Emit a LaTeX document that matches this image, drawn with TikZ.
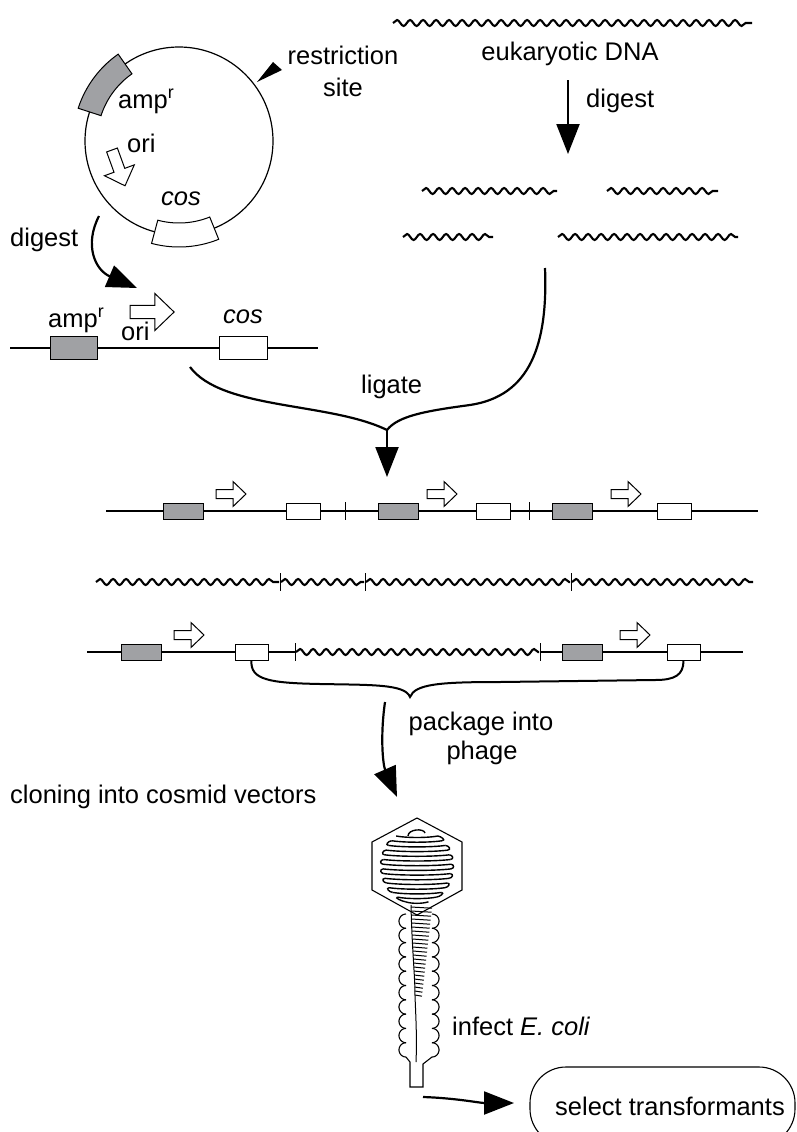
\documentclass[tikz,border=0pt]{standalone}
\usepackage{fontspec}
\setmainfont{Liberation Sans}
\usetikzlibrary{arrows.meta,decorations.pathmorphing,calc}
\definecolor{ampgray}{RGB}{160,161,164}
\tikzset{
  oriarrow/.pic={
    \draw[fill=white,line width=1pt] (0,-4.5) -- (17,-4.5) -- (17,-12.5) -- (30,0)
      -- (17,12.5) -- (17,4.5) -- (0,4.5) -- cycle;
  }
}
\begin{document}
\begin{tikzpicture}[x=1pt,y=-1pt,
  lbl/.style={font=\fontsize{25.5}{30}\selectfont, inner sep=0pt},
  thinline/.style={line width=1.1pt},
  wavy/.style={line width=2.1pt, decorate,
    decoration={snake, segment length=13pt, amplitude=3pt}},
  flow/.style={line width=2.2pt, -{Triangle[length=30pt,width=23pt]}},
  curve/.style={line width=2.2pt},
  ampbox/.style={draw, line width=1pt, fill=ampgray, minimum width=40pt,
    minimum height=16pt, inner sep=0pt},
  cosbox/.style={ampbox, fill=white},
  tickmark/.style={line width=1pt},
  coil/.style={line width=1.4pt},
  phage/.style={line width=1.1pt}
]
\useasboundingbox (0,0) rectangle (797,1132);

% ---------- plasmid ----------
\coordinate (pc) at (179,141);
\draw[line width=1.2pt] (pc) circle[radius=94];
\draw[line width=1pt, fill=ampgray]
  plot[domain=-162:-125,samples=24] ({179+82*cos(\x)},{141+82*sin(\x)})
  -- plot[domain=-125:-162,samples=24] ({179+106*cos(\x)},{141+106*sin(\x)}) -- cycle;
\draw[line width=1pt, fill=white]
  plot[domain=68:105,samples=24] ({179+82*cos(\x)},{141+82*sin(\x)})
  -- plot[domain=105:68,samples=24] ({179+106*cos(\x)},{141+106*sin(\x)}) -- cycle;
\fill (257,82) -- (273,62) -- (282,70) -- cycle;
\node[lbl, anchor=base] (restr) at (343,64) {restriction};
\node[lbl, anchor=base] (site) at (343,96) {site};
\node[lbl, anchor=base west] (pamp) at (118,108) {amp\textsuperscript{r}};
\node[lbl, anchor=base west] (pori) at (127,152) {ori};
\node[lbl, anchor=base] (pcos) at (181,205) {\itshape cos};
\pic[scale=1.27, rotate=-70] at (112,150) {oriarrow};

% digest of the vector
\node[lbl, anchor=base west] (dig1) at (10,246) {digest};
\coordinate (d1s) at (99,216);
\coordinate (d1e) at (137,288);
\draw[flow] (d1s) .. controls (84,245) and (95,270) .. (d1e);

% ---------- eukaryotic DNA ----------
\coordinate (eA) at (393,23);
\coordinate (eB) at (752,23);
\draw[wavy] (eA) -- (eB);
\node[lbl, anchor=base] (euk) at (570,60) {eukaryotic DNA};
\coordinate (d2s) at (568,80);
\coordinate (d2e) at (568,154);
\draw[flow] (d2s) -- (d2e);
\node[lbl, anchor=base west] (dig2) at (586,107) {digest};
\draw[wavy] (422,191) -- (557,191);
\draw[wavy] (607,191) -- (718,191);
\draw[wavy] (403,237) -- (493,237);
\draw[wavy] (558,237) -- (738,237);

% ---------- linearised vector ----------
\coordinate (lvA) at (10,348);
\coordinate (lvB) at (318,348);
\draw[thinline] (lvA) -- (lvB);
\node[ampbox, minimum width=47pt, minimum height=23pt] (lamp) at (73.5,348) {};
\node[cosbox, minimum width=48pt, minimum height=23pt] (lcos) at (243,348) {};
\pic[scale=1.47] at (130,312) {oriarrow};
\node[lbl, anchor=base west] (lampt) at (48,327) {amp\textsuperscript{r}};
\node[lbl, anchor=base west] (lorit) at (121,340) {ori};
\node[lbl, anchor=base] (lcost) at (243,323) {\itshape cos};

% ---------- ligation ----------
\coordinate (lgL) at (190,367);
\coordinate (lgR) at (545,268);
\coordinate (lgJ) at (387,430);
\coordinate (lgT) at (387,477);
\draw[curve] (lgL) .. controls (222,410) and (330,402) .. (lgJ);
\draw[curve] (lgR) .. controls (548,345) and (530,396) .. (470,405)
  .. controls (425,411) and (398,416) .. (lgJ);
\draw[flow] (lgJ) -- (lgT);
\node[lbl, anchor=base west] (lig) at (361,393) {ligate};

% ---------- concatemer ----------
\coordinate (cA) at (106,511);
\coordinate (cB) at (758,511);
\draw[thinline] (cA) -- (cB);
\draw[tickmark] (345,502) -- (345,520);
\draw[tickmark] (529,502) -- (529,520);
\node[ampbox] (ca1) at (183,511) {};
\node[ampbox] (ca2) at (398,511) {};
\node[ampbox] (ca3) at (572,511) {};
\node[cosbox, minimum width=34pt] (cc1) at (303,511) {};
\node[cosbox, minimum width=34pt] (cc2) at (493,511) {};
\node[cosbox, minimum width=34pt] (cc3) at (674,511) {};
\pic at (216,494) {oriarrow};
\pic at (427,494) {oriarrow};
\pic at (611,494) {oriarrow};

% ---------- cut insert DNA ----------
\draw[wavy] (96,582) -- (279,582);
\draw[wavy] (281,582) -- (364,582);
\draw[wavy] (366,582) -- (570,582);
\draw[wavy] (572,582) -- (753,582);
\draw[tickmark] (280,573) -- (280,591);
\draw[tickmark] (365,573) -- (365,591);
\draw[tickmark] (571,573) -- (571,591);

% ---------- cosmid with insert ----------
\draw[thinline] (87,652) -- (295,652);
\draw[thinline] (540,652) -- (743,652);
\draw[wavy] (296,652) -- (539,652);
\draw[tickmark] (295,643) -- (295,661);
\draw[tickmark] (540,643) -- (540,661);
\node[ampbox] (ra1) at (141.5,652) {};
\node[ampbox] (ra2) at (582,652) {};
\node[cosbox, minimum width=33pt] (rc1) at (251.5,652) {};
\node[cosbox, minimum width=33pt] (rc2) at (683.5,652) {};
\pic at (174,635) {oriarrow};
\pic at (620,635) {oriarrow};

% brace between the cos sites
\draw[line width=2pt] (rc1.south) .. controls (250,680) and (270,683) .. (320,684)
  .. controls (372,685) and (405,684) .. (410,697)
  .. controls (415,684) and (440,682) .. (500,682) -- (655,680)
  .. controls (675,680) and (683.5,675) .. (rc2.south);

% packaging
\coordinate (pkS) at (385,702);
\coordinate (pkE) at (397,797);
\draw[flow] (pkS) .. controls (380,737) and (383,765) .. (pkE);
\node[lbl, anchor=base] (pk1) at (481,730) {package into};
\node[lbl, anchor=base] (pk2) at (482,759) {phage};
\node[lbl, anchor=base west] (clon) at (10,803) {cloning into cosmid vectors};

% ---------- phage ----------
\draw[phage] (417,818) -- (462,842) -- (462,890) -- (417,915) -- (372,890) -- (372,842) -- cycle;
% DNA wound in the head
\draw[coil] (408,836) .. controls (408,829) and (424,828) .. (425,833);
\foreach \k in {0,...,14} {
  \pgfmathsetmacro{\ya}{836+4.7*\k}
  \pgfmathsetmacro{\wa}{34*sqrt(max(0,1-((\ya-866)/38)^2))}
  \pgfmathsetmacro{\yb}{836+4.7*(\k+1)}
  \pgfmathsetmacro{\wb}{34*sqrt(max(0,1-((\yb-866)/38)^2))}
  \draw[coil] (417-\wa,\ya) .. controls (417-0.5*\wa,\ya+2) and (417+0.5*\wa,\ya+2) .. (417+\wa,\ya);
  \ifnum\k<14
    \ifodd\k
      \draw[coil] (417-\wa,\ya) .. controls (413.5-\wa,\ya+0.5) and (413.5-\wb,\yb-0.5) .. (417-\wb,\yb);
    \else
      \draw[coil] (417+\wa,\ya) .. controls (420.5+\wa,\ya+0.5) and (420.5+\wb,\yb-0.5) .. (417+\wb,\yb);
    \fi
  \fi
}
% DNA coiled in the tail
\draw[line width=1pt] (411,905) .. controls (412,950) and (415,975) .. (415,996)
  .. controls (416,1020) and (417,1040) .. (416,1062);
\foreach \k in {0,...,22} {
  \pgfmathsetmacro{\yc}{907+4*\k}
  \pgfmathsetmacro{\xl}{411+4*\k/22}
  \pgfmathsetmacro{\xr}{432-10*\k/22}
  \draw[line width=1pt] (\xl,\yc) -- (\xr,\yc+1.2);
}
% tail sheath
\foreach \i in {0,...,9} {
  \pgfmathsetmacro{\yc}{914+7.15+14.3*\i}
  \draw[phage] plot[domain=90:270,samples=16] ({406+7*cos(\x)},{\yc+7.15*sin(\x)});
  \draw[phage] plot[domain=-90:90,samples=16] ({432+7*cos(\x)},{\yc+7.15*sin(\x)});
}
\draw[phage] (406,1057) -- (410,1062) -- (410,1087) -- (423,1087) -- (423,1064) -- (432,1057);
\node[lbl, anchor=base west] (inf) at (452,1035) {infect \textit{E. coli}};

% ---------- selection ----------
\node[draw, line width=1.1pt, rounded corners=36pt, minimum width=265pt,
  minimum height=78pt, inner sep=0pt] (selbox) at (662.5,1106) {};
\node[lbl, anchor=base] (sel) at (670,1115) {select transformants};
\coordinate (sS) at (423,1097);
\coordinate (sE) at (514,1103);
\draw[flow] (sS) .. controls (455,1098) and (480,1103) .. (sE);
\end{tikzpicture}
\end{document}
